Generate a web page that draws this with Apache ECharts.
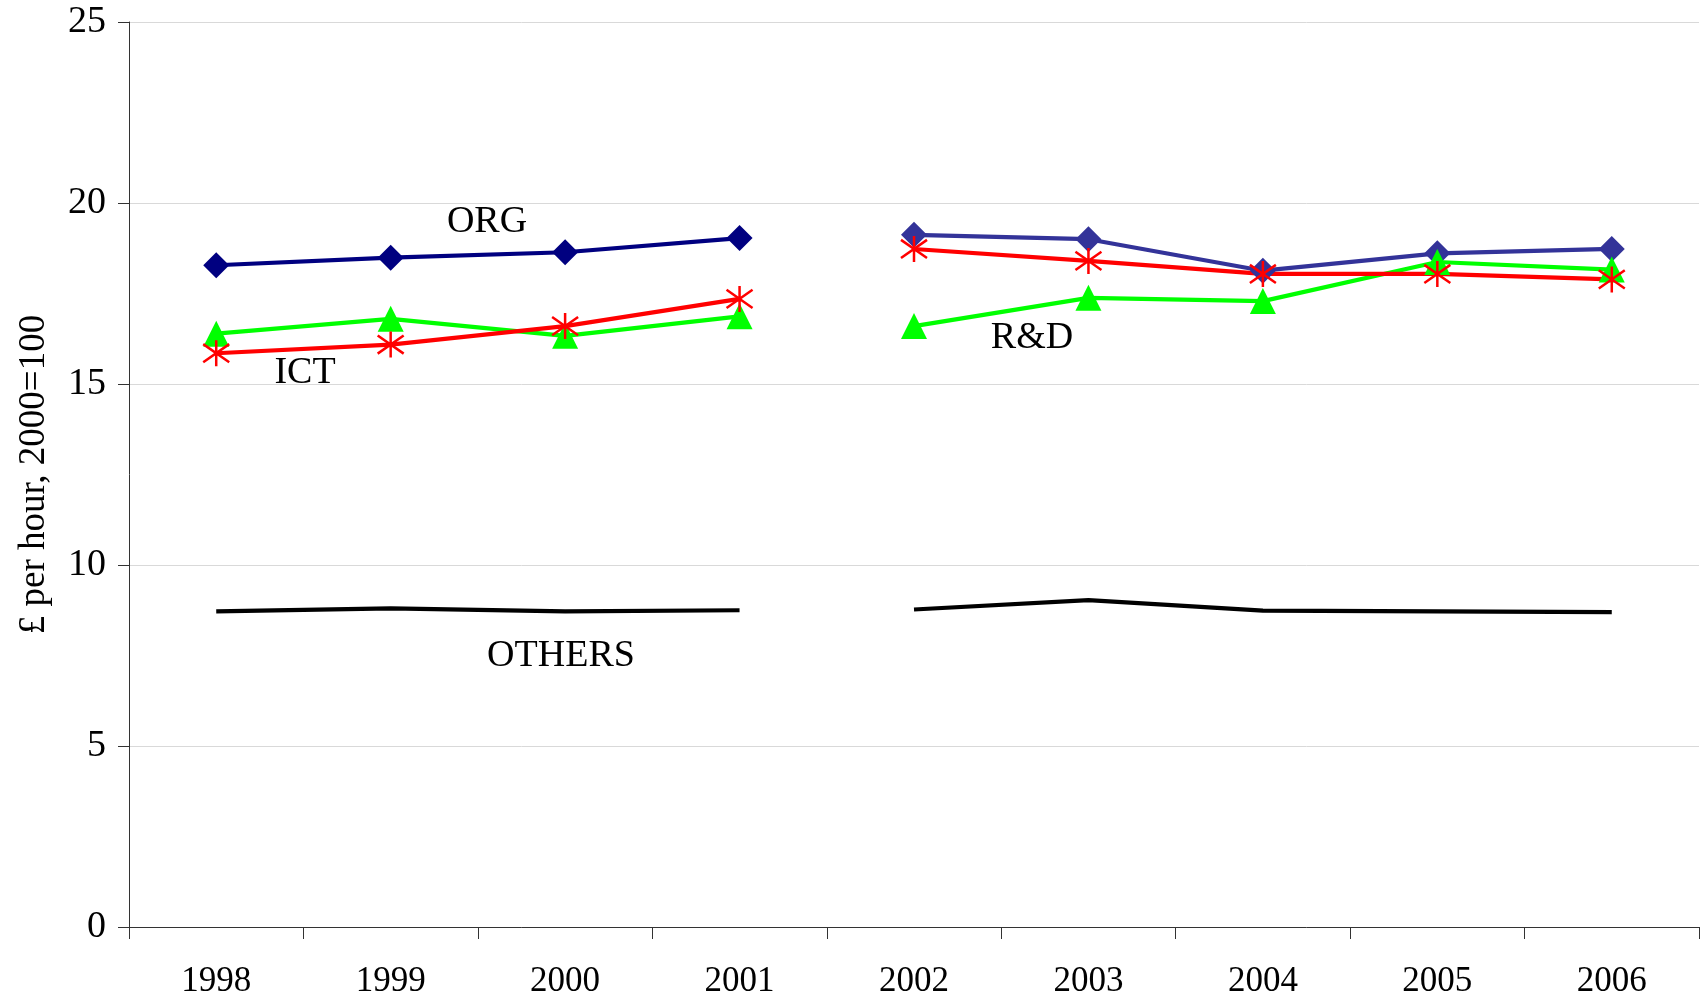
<!DOCTYPE html>
<html>
<head>
<meta charset="utf-8">
<script src="https://cdn.jsdelivr.net/npm/echarts@6/dist/echarts.min.js"></script>
<style>html,body{margin:0;padding:0;background:#fff;}#c{width:1704px;height:1000px;}</style>
</head>
<body>
<div id="c"></div>
<script>
const years = ['1998','1999','2000','2001','2002','2003','2004','2005','2006'];
const org = [18.28, 18.49, 18.64, 19.03, 19.12, 19.00, 18.13, 18.61, 18.73];
const ict = [15.85, 16.09, 16.60, 17.35, 18.73, 18.40, 18.04, 18.04, 17.89];
const rd = [16.39, 16.80, 16.33, 16.87, 16.60, 17.38, 17.29, 18.37, 18.16];
const others = [8.72, 8.80, 8.72, 8.75, 8.77, 9.03, 8.74, 8.72, 8.70];
const yTicks = [0, 5, 10, 15, 20, 25];
const seriesLabels = ['ORG', 'ICT', 'R&D', 'OTHERS'];
const yName = '£ per hour, 2000=100';

const FONT = '"Liberation Serif", "DejaVu Serif", serif';
function seg(arr, a, b) { return arr.map((v, i) => (i >= a && i < b) ? v : null); }
const asterisk = 'path://M0,-10L0,10M-10,-7L10,7M-10,7L10,-7';

function mk(name, data, color, symbol, size, extra) {
  return Object.assign({
    name: name, type: 'line', data: data, connectNulls: false,
    symbol: symbol, symbolSize: size, showSymbol: symbol !== 'none',
    lineStyle: { color: color, width: 4.2 },
    itemStyle: { color: color },
    animation: false, silent: true
  }, extra || {});
}
const astItem = { itemStyle: { color: 'rgba(0,0,0,0)', borderColor: '#ff0000', borderWidth: 2.5 } };

const series = [
  mk('OTHERS', seg(others, 0, 4), '#000000', 'none', 0),
  mk('OTHERS', seg(others, 4, 9), '#000000', 'none', 0),
  mk('ORG', seg(org, 0, 4), '#000080', 'diamond', [26, 26]),
  mk('ORG', seg(org, 4, 9), '#333399', 'diamond', [26, 26]),
  mk('R&D', seg(rd, 0, 4), '#00ff00', 'triangle', [26, 26]),
  mk('R&D', seg(rd, 4, 9), '#00ff00', 'triangle', [26, 26]),
  mk('ICT', seg(ict, 0, 4), '#ff0000', asterisk, 26, astItem),
  mk('ICT', seg(ict, 4, 9), '#ff0000', asterisk, 26, astItem)
];

const labelPos = [[487, 222], [305, 373], [1032, 338], [561, 656]];
const graphics = seriesLabels.map((t, i) => ({
  type: 'text', x: labelPos[i][0], y: labelPos[i][1], silent: true,
  style: { text: t, font: '38px ' + FONT, fill: '#000', textAlign: 'center', textVerticalAlign: 'middle' }
}));

const chart = echarts.init(document.getElementById('c'));
chart.setOption({
  backgroundColor: '#fff',
  animation: false,
  grid: { left: 129, right: 5, top: 22, bottom: 73 },
  xAxis: {
    type: 'category', data: years, boundaryGap: true,
    axisLine: { lineStyle: { color: '#333', width: 1 } },
    axisTick: { show: true, length: 12, inside: false, lineStyle: { color: '#333' } },
    axisLabel: { fontFamily: FONT, fontSize: 35, color: '#000', margin: 37 },
    splitLine: { show: false }
  },
  yAxis: {
    type: 'value', min: 0, max: 25, interval: 5,
    name: yName, nameLocation: 'middle', nameGap: 76, nameRotate: 90,
    nameTextStyle: { fontFamily: FONT, fontSize: 37, color: '#000' },
    axisLine: { show: true, lineStyle: { color: '#333', width: 1 } },
    axisTick: { show: true, length: 11, lineStyle: { color: '#333' } },
    axisLabel: { fontFamily: FONT, fontSize: 38, color: '#000', margin: 23,
      formatter: v => yTicks.includes(v) ? String(v) : '' },
    splitLine: { show: true, lineStyle: { color: '#d9d9d9', width: 1 } }
  },
  series: series,
  graphic: graphics
});
</script>
</body>
</html>
